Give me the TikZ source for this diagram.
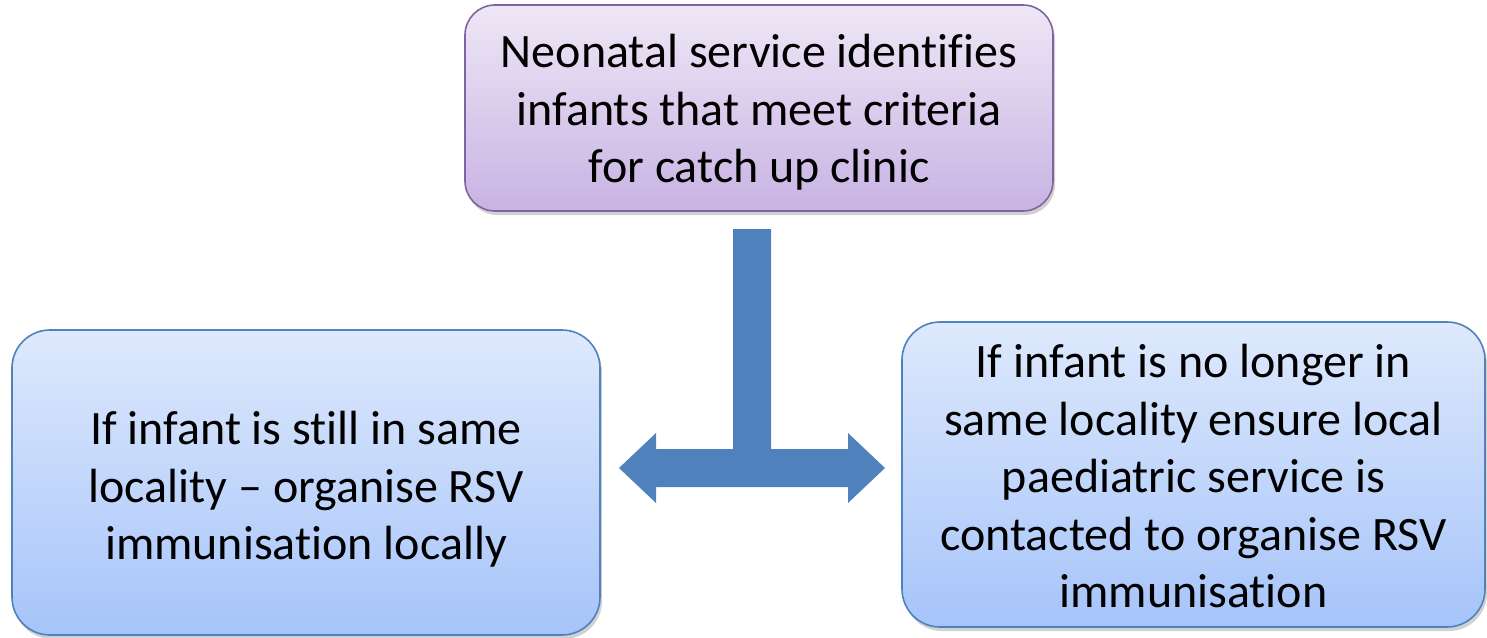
\documentclass[tikz,border=0pt]{standalone}
\usepackage{fontspec}
\setmainfont{Carlito}[Ligatures={NoCommon}]
\usetikzlibrary{shadows}
\definecolor{arrowblue}{HTML}{4F81BD}
\definecolor{blueedge}{HTML}{4F81BD}
\definecolor{bluetop}{HTML}{DEE9FC}
\definecolor{bluebot}{HTML}{A6C4FA}
\definecolor{purpleedge}{HTML}{8064A2}
\definecolor{purpletop}{HTML}{EEE7F6}
\definecolor{purplebot}{HTML}{C8B3E3}
\newcommand{\boxlines}[2]{\raisebox{#1}[\height][\depth]{\begin{tabular}{@{}c@{}}#2\end{tabular}}}
\tikzset{
  boxbase/.style={rectangle, rounded corners=38pt, line width=1.6pt, align=center, inner sep=0pt,
    font=\fontsize{48}{57.5}\selectfont,
    drop shadow={opacity=0.3, shadow xshift=2pt, shadow yshift=-4pt, fill=black!60}},
  bluebox/.style={boxbase, draw=blueedge, top color=bluetop, bottom color=bluebot},
  purplebox/.style={boxbase, rounded corners=30pt, draw=purpleedge, top color=purpletop, bottom color=purplebot},
  blockarrow/.style={fill=arrowblue, draw=none}
}
\begin{document}
\begin{tikzpicture}[x=1pt,y=-1pt]
\useasboundingbox (0,0) rectangle (1487,637);
\node[purplebox, minimum width=588pt, minimum height=206pt] (top) at (759,108)
  {\boxlines{-5.5pt}{Neonatal service identifies\\infants that meet criteria\\for catch up clinic}};
\node[bluebox, minimum width=588pt, minimum height=305pt] (left) at (306,482.5)
  {\boxlines{-8pt}{If infant is still in same\\locality -- organise RSV\\immunisation locally}};
\node[bluebox, minimum width=583pt, minimum height=305pt] (right) at (1193.5,474.5)
  {\boxlines{-6.5pt}{If infant is no longer in\\same locality ensure local\\paediatric service is\\contacted to organise RSV\\immunisation}};
% T-shaped block arrow
\fill[blockarrow] (733,229) -- (771,229) -- (771,449) -- (848,449) -- (848,433) -- (885,468)
  -- (848,503) -- (848,487) -- (656,487) -- (656,503) -- (619,468) -- (656,433)
  -- (656,449) -- (733,449) -- cycle;
\end{tikzpicture}
\end{document}
